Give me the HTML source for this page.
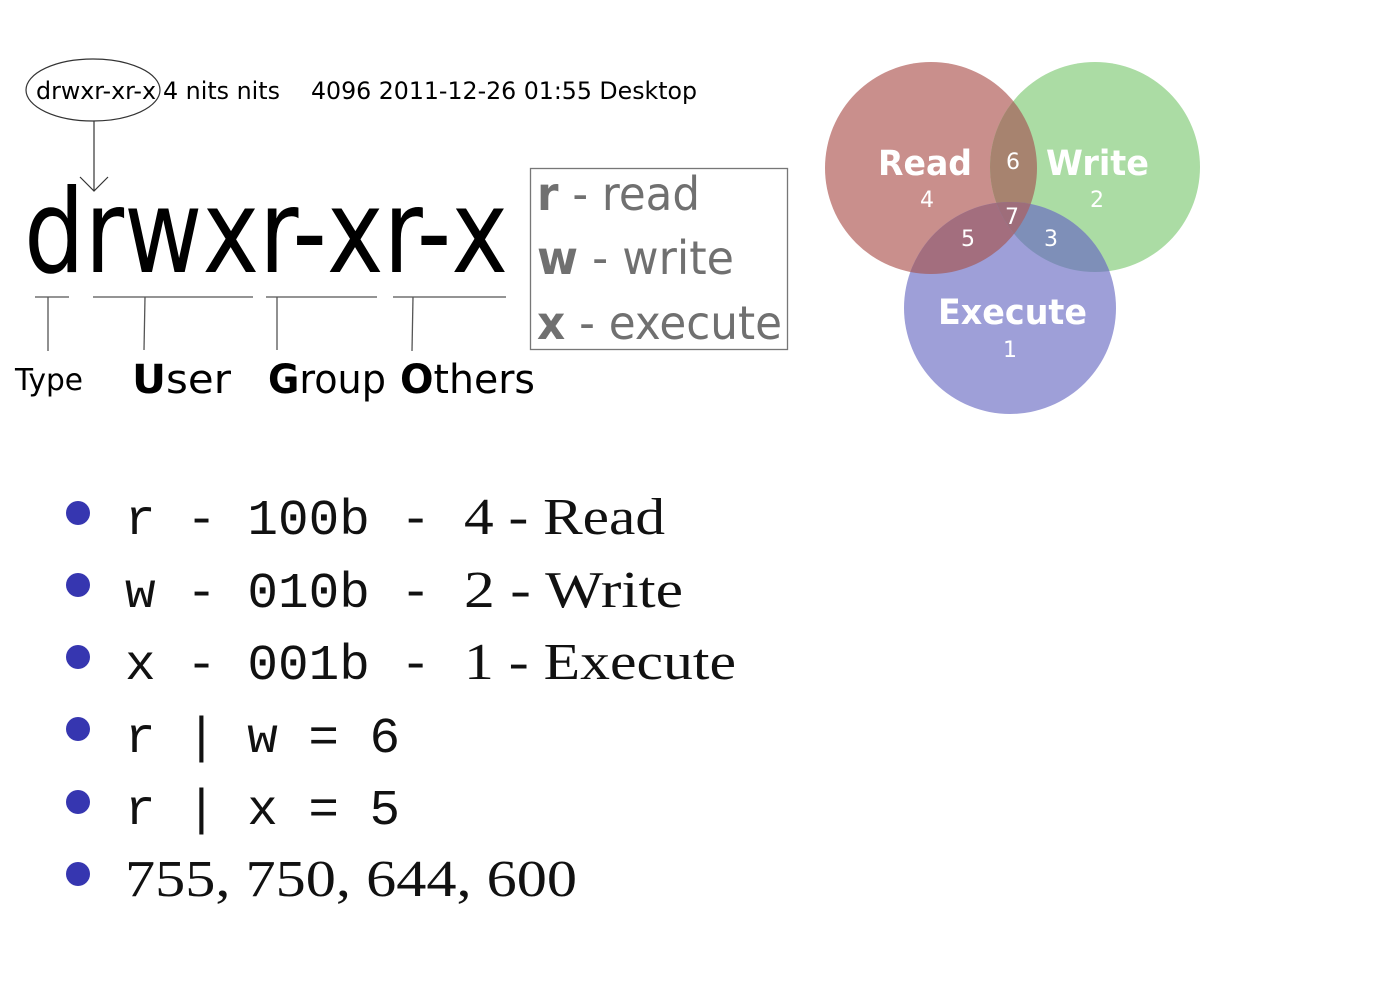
<!DOCTYPE html>
<html><head><meta charset="utf-8"><style>
html,body{margin:0;padding:0;background:#fff;width:1388px;height:1002px;overflow:hidden}
</style></head><body>
<svg width="1388" height="1002" xmlns="http://www.w3.org/2000/svg">
<defs>
<clipPath id="cr"><circle cx="931" cy="168" r="106"/></clipPath>
<clipPath id="cw"><circle cx="1095" cy="167" r="105"/></clipPath>
<clipPath id="crw" clip-path="url(#cr)"><circle cx="1095" cy="167" r="105"/></clipPath>
</defs>
<g font-family="DejaVu Sans, sans-serif">
<ellipse cx="93" cy="90" rx="67" ry="31" fill="none" stroke="#333" stroke-width="1.2"/>
<text x="36" y="99" font-size="24" textLength="120" lengthAdjust="spacingAndGlyphs">drwxr-xr-x</text>
<text x="163" y="99" font-size="24" textLength="117" lengthAdjust="spacingAndGlyphs">4 nits nits</text>
<text x="311" y="99" font-size="24" textLength="386" lengthAdjust="spacingAndGlyphs">4096 2011-12-26 01:55 Desktop</text>
<line x1="94" y1="121" x2="94" y2="191" stroke="#333" stroke-width="1.2"/>
<polyline points="80,177 94,191 108,177" fill="none" stroke="#333" stroke-width="1.2"/>
<text x="24" y="272" font-size="116" textLength="484" lengthAdjust="spacingAndGlyphs">drwxr-xr-x</text>
<g stroke="#555" stroke-width="1.3">
<line x1="35" y1="297" x2="69" y2="297"/><line x1="48" y1="297" x2="48" y2="351"/>
<line x1="93" y1="297" x2="253" y2="297"/><line x1="145" y1="297" x2="144" y2="350"/>
<line x1="266" y1="297" x2="377" y2="297"/><line x1="277" y1="297" x2="277" y2="350"/>
<line x1="393" y1="297" x2="506" y2="297"/><line x1="413" y1="297" x2="412" y2="351"/>
</g>
<text x="15" y="390" font-size="30" textLength="68" lengthAdjust="spacingAndGlyphs">Type</text>
<text x="132" y="393" font-size="40" textLength="99" lengthAdjust="spacingAndGlyphs"><tspan font-weight="bold">U</tspan>ser</text>
<text x="268" y="393" font-size="40" textLength="118" lengthAdjust="spacingAndGlyphs"><tspan font-weight="bold">G</tspan>roup</text>
<text x="400" y="393" font-size="40" textLength="135" lengthAdjust="spacingAndGlyphs"><tspan font-weight="bold">O</tspan>thers</text>
<rect x="530.5" y="168.5" width="257" height="181" fill="none" stroke="#777" stroke-width="1.3"/>
<g fill="#707070" font-size="46">
<text x="537" y="210" textLength="163" lengthAdjust="spacingAndGlyphs"><tspan font-weight="bold">r</tspan> - read</text>
<text x="537" y="274" textLength="197" lengthAdjust="spacingAndGlyphs"><tspan font-weight="bold">w</tspan> - write</text>
<text x="537" y="339" textLength="245" lengthAdjust="spacingAndGlyphs"><tspan font-weight="bold">x</tspan> - execute</text>
</g>
</g>
<circle cx="931" cy="168" r="106" fill="#c98f8c"/>
<circle cx="1095" cy="167" r="105" fill="#abdca4"/>
<circle cx="1010" cy="308" r="106" fill="#9e9fd8"/>
<circle cx="1095" cy="167" r="105" fill="#a7836f" clip-path="url(#cr)"/>
<circle cx="1010" cy="308" r="106" fill="#a36e7e" clip-path="url(#cr)"/>
<circle cx="1010" cy="308" r="106" fill="#7e8fb8" clip-path="url(#cw)"/>
<circle cx="1010" cy="308" r="106" fill="#9e6d7a" clip-path="url(#crw)"/>
<g fill="#fff" font-family="DejaVu Sans, sans-serif">
<text x="878" y="175" font-size="35" font-weight="bold" textLength="94" lengthAdjust="spacingAndGlyphs">Read</text>
<text x="1046" y="175" font-size="35" font-weight="bold" textLength="103" lengthAdjust="spacingAndGlyphs">Write</text>
<text x="938" y="324" font-size="35" font-weight="bold" textLength="149" lengthAdjust="spacingAndGlyphs">Execute</text>
<g font-size="22" text-anchor="middle"><text x="927" y="207">4</text><text x="1097" y="207">2</text><text x="1010" y="357">1</text>
<text x="1013" y="169">6</text><text x="1012" y="224">7</text><text x="968" y="246">5</text><text x="1051" y="246">3</text></g>
</g>
<g fill="#3636b0"><circle cx="78" cy="513" r="12"/><circle cx="78" cy="585" r="12"/><circle cx="78" cy="657" r="12"/><circle cx="78" cy="729" r="12"/><circle cx="78" cy="802" r="12"/><circle cx="78" cy="874" r="12"/></g>
<g font-size="50" fill="#111">
<g font-family="Liberation Mono, monospace">
<text x="125" y="534" textLength="306" lengthAdjust="spacingAndGlyphs">r - 100b -</text>
<text x="125" y="607" textLength="306" lengthAdjust="spacingAndGlyphs">w - 010b -</text>
<text x="125" y="679" textLength="306" lengthAdjust="spacingAndGlyphs">x - 001b -</text>
<text x="125" y="752" textLength="275" lengthAdjust="spacingAndGlyphs">r | w = 6</text>
<text x="125" y="824" textLength="275" lengthAdjust="spacingAndGlyphs">r | x = 5</text>
</g>
<g font-family="Liberation Serif, serif" font-size="52">
<text x="464" y="534" textLength="201" lengthAdjust="spacingAndGlyphs">4 - Read</text>
<text x="464" y="607" textLength="219" lengthAdjust="spacingAndGlyphs">2 - Write</text>
<text x="464" y="679" textLength="272" lengthAdjust="spacingAndGlyphs">1 - Execute</text>
<text x="125" y="896" textLength="452" lengthAdjust="spacingAndGlyphs">755, 750, 644, 600</text>
</g>
</g>
</svg>
</body></html>
